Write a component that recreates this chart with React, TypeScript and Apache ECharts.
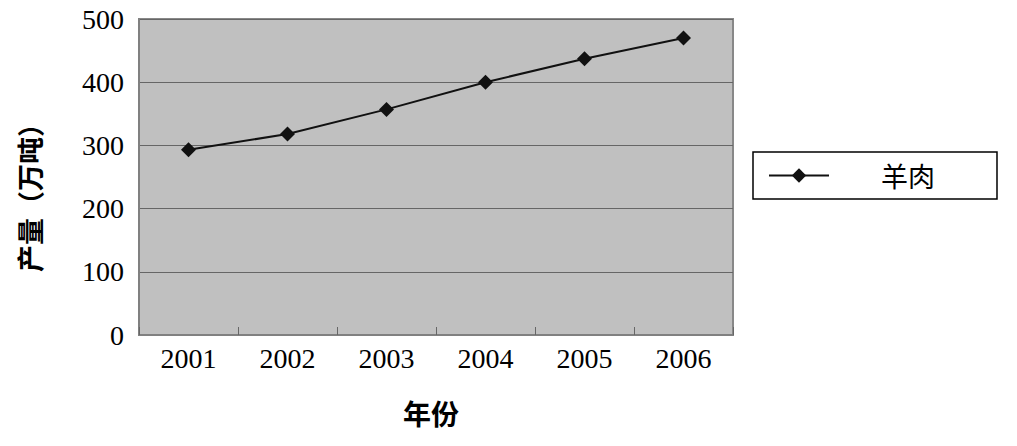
import React, { useEffect, useRef } from "react";
import * as echarts from "echarts";

const years = ["2001", "2002", "2003", "2004", "2005", "2006"];
const muttonValues = [293, 318, 357, 400, 437, 470];
const seriesName = "羊肉";
const yAxisName = "产量（万吨）";
const xAxisName = "年份";

export default function App() {
  const ref = useRef<HTMLDivElement>(null);
  useEffect(() => {
    if (!ref.current) return;
    const chart = echarts.init(ref.current, undefined, { renderer: "svg" });
    const serif = "'Liberation Serif', 'Times New Roman', serif";
    const cjk = "'Noto Sans CJK SC', sans-serif";
    chart.setOption({
      animation: false,
      backgroundColor: "#ffffff",
      grid: {
        left: 139,
        right: 284,
        top: 19,
        bottom: 111,
        show: true,
        backgroundColor: "#c0c0c0",
        borderColor: "#888888",
        borderWidth: 2,
      },
      legend: {
        left: 753,
        top: 152,
        orient: "vertical",
        data: [seriesName],
        backgroundColor: "#ffffff",
        borderColor: "#000000",
        borderWidth: 1.5,
        borderRadius: 0,
        padding: [10, 62, 10, 15],
        itemWidth: 60,
        itemHeight: 18,
        textStyle: {
          fontFamily: cjk,
          fontSize: 27,
          color: "#000",
          padding: [0, 0, 0, 47],
        },
      },
      xAxis: {
        type: "category",
        data: years,
        boundaryGap: true,
        name: xAxisName,
        nameLocation: "middle",
        nameGap: 64,
        nameTextStyle: {
          fontFamily: cjk,
          fontSize: 28,
          fontWeight: "bold",
          color: "#000",
          padding: [0, 10, 0, 0],
        },
        axisLine: { show: true, lineStyle: { color: "#808080", width: 2 } },
        axisTick: { show: true, inside: true, length: 8, lineStyle: { color: "#666" } },
        axisLabel: { fontFamily: serif, fontSize: 28, color: "#000", margin: 9 },
      },
      yAxis: {
        type: "value",
        min: 0,
        max: 500,
        interval: 100,
        name: yAxisName,
        nameLocation: "middle",
        nameGap: 96,
        nameRotate: 90,
        nameTextStyle: {
          fontFamily: cjk,
          fontSize: 27,
          fontWeight: "bold",
          color: "#000",
          padding: [0, 28, 0, 0],
        },
        axisLine: { show: true, lineStyle: { color: "#808080", width: 2 } },
        axisTick: { show: false },
        axisLabel: { fontFamily: serif, fontSize: 28, color: "#000", margin: 15 },
        splitLine: { show: true, lineStyle: { color: "#666666", width: 1 } },
      },
      series: [
        {
          name: seriesName,
          type: "line",
          data: muttonValues,
          symbol: "diamond",
          symbolSize: 15,
          lineStyle: { color: "#111", width: 2 },
          itemStyle: { color: "#111" },
        },
      ],
    });
    return () => chart.dispose();
  }, []);
  return (
    <div
      ref={ref}
      style={{ position: "absolute", left: 0, top: 0, width: 1017, height: 446 }}
    />
  );
}
